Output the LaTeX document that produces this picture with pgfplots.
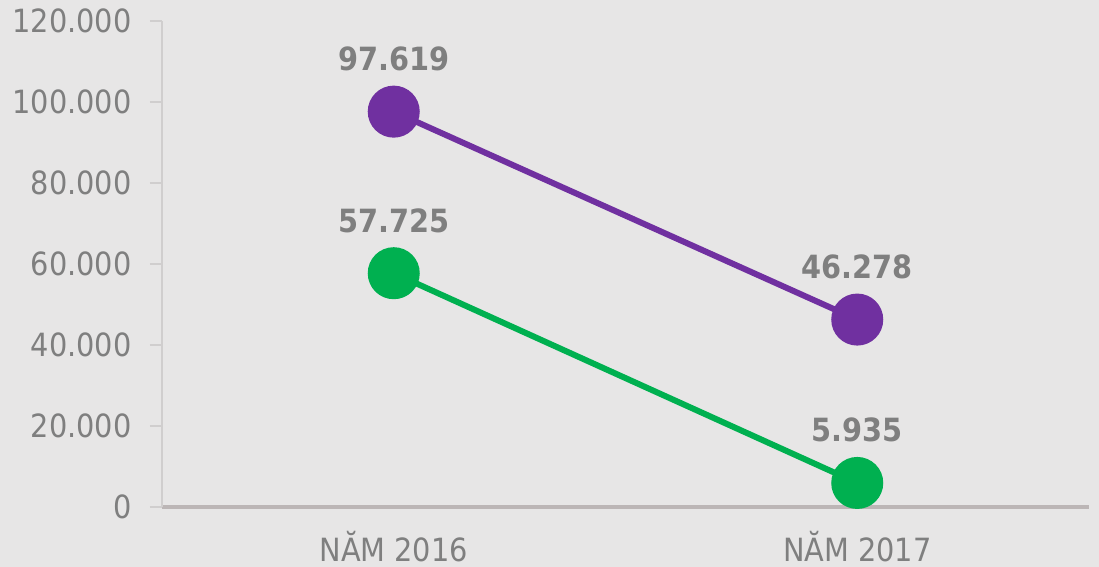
\documentclass[border=0pt]{standalone}
\usepackage{fontspec}
\setmainfont{DejaVu Sans Condensed}
\usepackage{pgfplots}
\pgfplotsset{compat=1.18}
\definecolor{bg}{HTML}{E7E6E6}
\definecolor{txt}{HTML}{7F7F7F}
\definecolor{ppl}{HTML}{7030A0}
\definecolor{grn}{HTML}{00B050}
\definecolor{yax}{HTML}{D0CECE}
\definecolor{xax}{HTML}{BCB6B6}

\begin{document}
\begin{tikzpicture}
  % background of the whole picture (1px = 0.5pt)
  \fill[bg] (-81pt,-30pt) rectangle (468.5pt,253.5pt);
  \useasboundingbox (-81pt,-30pt) rectangle (468.5pt,253.5pt);
  \begin{axis}[
    at={(0,0)}, anchor=south west,
    scale only axis,
    width=463.5pt, height=243pt,
    xmin=-0.5, xmax=1.5,
    ymin=0, ymax=120000,
    scaled y ticks=false,
    xtick={0,1},
    xticklabels={NĂM 2016, NĂM 2017},
    ytick={0,20000,40000,60000,80000,100000,120000},
    yticklabels={0,20.000,40.000,60.000,80.000,100.000,120.000},
    axis x line=bottom, axis y line=left,
    x axis line style={-, draw=xax, line width=2pt},
    y axis line style={-, draw=yax, line width=0.75pt},
    xtick style={draw=none},
    ytick style={draw=yax, line width=0.75pt},
    tick align=outside,
    major tick length=6pt,
    tick label style={font=\fontsize{16}{18}\selectfont, text=txt},
    yticklabel style={anchor=east, inner sep=0pt, xshift=-9pt},
    xticklabel style={anchor=north, inner sep=0pt, yshift=-6pt},
    clip=false,
    point meta=explicit symbolic,
    nodes near coords,
    nodes near coords style={anchor=base, yshift=20.5pt, inner sep=0pt,
      font=\bfseries\fontsize{16}{18}\selectfont, text=txt},
  ]
    \addplot[ppl, line width=3pt, mark=*, mark size=11.5pt,
      mark options={fill=ppl, draw=none}]
      coordinates {(0,97619) [97.619] (1,46278) [46.278]};
    \addplot[grn, line width=3pt, mark=*, mark size=11.5pt,
      mark options={fill=grn, draw=none}]
      coordinates {(0,57725) [57.725] (1,5935) [5.935]};
  \end{axis}
\end{tikzpicture}
\end{document}
